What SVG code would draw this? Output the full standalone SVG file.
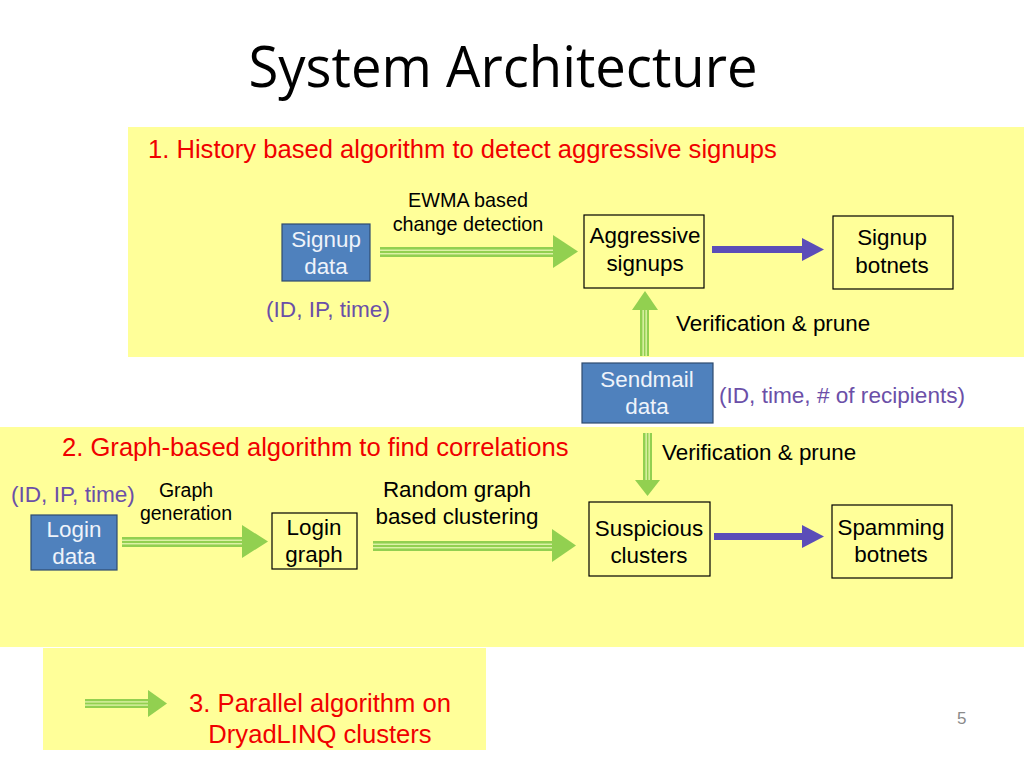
<svg xmlns="http://www.w3.org/2000/svg" width="1024" height="768" viewBox="0 0 1024 768">
<style>
.panel{fill:#FFFF99}
.t{font-family:"Liberation Sans",Arial,sans-serif;fill:#000}
.red{font-family:"Liberation Sans",Arial,sans-serif;fill:#F00000;font-size:25.6px}
.pur{font-family:"Liberation Sans",Arial,sans-serif;fill:#6B4FA8;font-size:22.6px}
.box{fill:#FFFF99;stroke:#000;stroke-width:1.2}
.bbox{fill:#4F81BD;stroke:#2F4B6E;stroke-width:1.2}
.wt{font-family:"Liberation Sans",Arial,sans-serif;fill:#EEF3FA;font-size:22.4px;text-anchor:middle}
.bt{font-family:"Liberation Sans",Arial,sans-serif;fill:#000;font-size:22.4px;text-anchor:middle}
.g{fill:#92D050}
.gs{fill:#E6F5B0}
.p{fill:#5B4DB8}
</style>
<rect width="1024" height="768" fill="#fff"/>
<rect class="panel" x="128" y="127" width="896" height="230"/>
<rect class="panel" x="0" y="427" width="1024" height="220"/>
<rect class="panel" x="43" y="648" width="443" height="102"/>

<text x="503" y="87" text-anchor="middle" textLength="509" lengthAdjust="spacingAndGlyphs" style="font-family:'Open Sans','Liberation Sans',sans-serif;font-size:57px;fill:#000">System Architecture</text>

<text class="red" x="148" y="158">1. History based algorithm to detect aggressive signups</text>
<text class="red" x="62" y="456">2. Graph-based algorithm to find correlations</text>
<text class="red" x="320" y="712" text-anchor="middle">3. Parallel algorithm on</text>
<text class="red" x="320" y="743" text-anchor="middle">DryadLINQ clusters</text>

<g id="connectors">
  <!-- signup -> aggressive -->
  <g>
    <rect class="g" x="380" y="247" width="175" height="10"/>
    <rect class="gs" x="380" y="249.6" width="175" height="1.3"/>
    <rect class="gs" x="380" y="253.1" width="175" height="1.3"/>
    <polygon class="g" points="553,235 578,251.5 553,268"/>
  </g>
  <!-- aggressive -> signup botnets -->
  <g>
    <rect class="p" x="712" y="246" width="92" height="7"/>
    <polygon class="p" points="802,238 824,249.5 802,261"/>
  </g>
  <!-- sendmail up -> aggressive -->
  <g>
    <rect class="g" x="640" y="308" width="9" height="48"/>
    <rect class="gs" x="642.5" y="308" width="1.3" height="48"/>
    <rect class="gs" x="645.5" y="308" width="1.3" height="48"/>
    <polygon class="g" points="632,310 645,291 658,310"/>
  </g>
  <!-- sendmail down -> suspicious -->
  <g>
    <rect class="g" x="643" y="433" width="9" height="49"/>
    <rect class="gs" x="645.5" y="433" width="1.3" height="49"/>
    <rect class="gs" x="648.5" y="433" width="1.3" height="49"/>
    <polygon class="g" points="635,480 660,480 647.5,496"/>
  </g>
  <!-- login data -> login graph -->
  <g>
    <rect class="g" x="122" y="537" width="122" height="10"/>
    <rect class="gs" x="122" y="539.6" width="122" height="1.3"/>
    <rect class="gs" x="122" y="543.1" width="122" height="1.3"/>
    <polygon class="g" points="242,525 268,541.5 242,558"/>
  </g>
  <!-- login graph -> suspicious -->
  <g>
    <rect class="g" x="373" y="541" width="181" height="10"/>
    <rect class="gs" x="373" y="543.6" width="181" height="1.3"/>
    <rect class="gs" x="373" y="547.1" width="181" height="1.3"/>
    <polygon class="g" points="552,529 576,545.5 552,562"/>
  </g>
  <!-- suspicious -> spamming -->
  <g>
    <rect class="p" x="714" y="533" width="90" height="7"/>
    <polygon class="p" points="802,525 824,536.5 802,548"/>
  </g>
  <!-- legend arrow -->
  <g>
    <rect class="g" x="85" y="699" width="65" height="9"/>
    <rect class="gs" x="85" y="701.3" width="65" height="1.2"/>
    <rect class="gs" x="85" y="704.5" width="65" height="1.2"/>
    <polygon class="g" points="148,690 167,703.5 148,717"/>
  </g>
</g>

<text class="t" x="468" y="207" text-anchor="middle" font-size="19.8">EWMA based</text>
<text class="t" x="468" y="231" text-anchor="middle" font-size="19.8">change detection</text>
<text class="t" x="676" y="331" font-size="22.4">Verification &amp; prune</text>
<text class="t" x="662" y="460" font-size="22.4">Verification &amp; prune</text>
<text class="t" x="186" y="497" text-anchor="middle" font-size="19.5">Graph</text>
<text class="t" x="186" y="520" text-anchor="middle" font-size="19.5">generation</text>
<text class="t" x="457" y="497" text-anchor="middle" font-size="22.4">Random graph</text>
<text class="t" x="457" y="524" text-anchor="middle" font-size="22.4">based clustering</text>

<text class="pur" x="328" y="317" text-anchor="middle">(ID, IP, time)</text>
<text class="pur" x="719" y="403">(ID, time, # of recipients)</text>
<text class="pur" x="11" y="502">(ID, IP, time)</text>

<g id="signup-data">
  <rect class="bbox" x="282" y="224" width="88" height="57"/>
  <text class="wt" x="326" y="247">Signup</text>
  <text class="wt" x="326" y="274">data</text>
</g>
<g id="aggressive-signups">
  <rect class="box" x="584" y="215" width="120" height="73"/>
  <text class="bt" x="645" y="243">Aggressive</text>
  <text class="bt" x="645" y="271">signups</text>
</g>
<g id="signup-botnets">
  <rect class="box" x="833" y="216" width="120" height="73"/>
  <text class="bt" x="892" y="245">Signup</text>
  <text class="bt" x="892" y="273">botnets</text>
</g>
<g id="sendmail-data">
  <rect class="bbox" x="582" y="363" width="131" height="60"/>
  <text class="wt" x="647" y="387">Sendmail</text>
  <text class="wt" x="647" y="414">data</text>
</g>
<g id="login-data">
  <rect class="bbox" x="31" y="515" width="86" height="55"/>
  <text class="wt" x="74" y="537">Login</text>
  <text class="wt" x="74" y="564">data</text>
</g>
<g id="login-graph">
  <rect class="box" x="272" y="513" width="85" height="56"/>
  <text class="bt" x="314" y="535">Login</text>
  <text class="bt" x="314" y="562">graph</text>
</g>
<g id="suspicious-clusters">
  <rect class="box" x="589" y="502" width="121" height="74"/>
  <text class="bt" x="649" y="536">Suspicious</text>
  <text class="bt" x="649" y="563">clusters</text>
</g>
<g id="spamming-botnets">
  <rect class="box" x="832" y="505" width="120" height="73"/>
  <text class="bt" x="891" y="535">Spamming</text>
  <text class="bt" x="891" y="562">botnets</text>
</g>

<text x="957" y="724" style="font-family:'Liberation Sans',Arial,sans-serif;font-size:17px;fill:#8A8A8A">5</text>
</svg>
